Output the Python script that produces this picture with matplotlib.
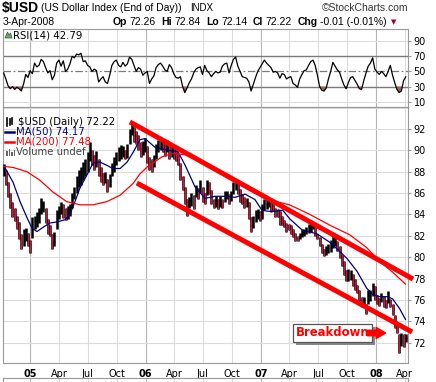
import numpy as np
import pandas as pd
import matplotlib
matplotlib.use("Agg")
import matplotlib.pyplot as plt
from matplotlib import patheffects
from matplotlib.lines import Line2D
from matplotlib.patches import Polygon, Rectangle

W, H = 436, 382

# weekly samples, Oct 2004 .. Apr 2008
weeks = pd.date_range("2004-10-08", periods=183, freq="7D")

usd_hi = [
    88.7, 88.2, 87.0, 86.0, 85.2, 84.6, 83.9, 83.3, 82.2, 82.6, 82.7, 82.3, 81.6,
    83.8, 83.9, 84.2, 84.6, 85.5, 85.3, 84.6, 83.6, 83.0, 82.2, 82.4, 84.4, 84.8,
    85.2, 85.0, 84.6, 84.8, 85.0, 86.0, 86.6, 87.6, 88.2, 88.4, 88.9, 89.2, 89.8,
    90.8, 90.0, 89.6, 89.9, 89.2, 88.4, 87.9, 88.0, 87.3, 87.8, 88.8, 89.4, 89.8,
    90.3, 90.5, 90.4, 90.0, 90.6, 92.0, 92.6, 92.2, 91.8, 91.4, 90.8, 90.9, 91.2,
    90.4, 89.4, 89.2, 89.6, 90.6, 91.0, 91.0, 90.9, 90.6, 91.0, 90.4, 90.4, 90.2,
    90.0, 89.7, 88.8, 87.6, 86.6, 85.4, 85.6, 86.0, 85.8, 86.8, 86.5, 87.2, 86.6,
    86.0, 87.2, 87.0, 86.3, 85.4, 85.7, 85.4, 85.7, 85.4, 86.2, 86.2, 85.9, 86.2,
    87.0, 87.3, 86.9, 86.4, 85.9, 85.6, 85.5, 85.2, 83.8, 83.9, 84.4, 84.5, 84.3,
    85.0, 85.4, 85.4, 85.4, 85.2, 85.0, 84.6, 84.5, 84.3, 83.9, 83.5, 83.2, 83.1,
    83.0, 82.6, 82.3, 82.0, 82.3, 82.6, 82.6, 82.8, 83.1, 83.2, 83.3, 82.8, 82.2,
    81.9, 81.2, 80.8, 81.0, 81.2, 81.6, 82.0, 82.1, 81.5, 81.0, 80.2, 79.6, 78.8,
    78.9, 78.8, 78.4, 78.0, 77.4, 76.9, 76.3, 76.3, 75.6, 76.9, 76.9, 77.6, 77.3,
    76.5, 76.2, 76.6, 76.4, 76.0, 76.8, 76.1, 75.6, 74.6, 73.8, 72.8, 72.9, 72.8, 72.8,
]
usd_lo = [
    87.6, 86.8, 85.6, 84.6, 83.8, 83.4, 82.6, 81.7, 80.8, 81.0, 81.5, 81.0, 80.4,
    81.8, 82.6, 82.8, 83.2, 84.0, 84.2, 83.2, 82.2, 82.0, 80.8, 81.0, 82.6, 83.6,
    84.0, 83.7, 83.5, 83.6, 83.9, 84.6, 85.4, 86.0, 86.6, 86.8, 87.2, 87.6, 88.0,
    89.0, 88.6, 88.2, 88.4, 87.6, 87.0, 86.8, 86.9, 86.1, 86.6, 87.6, 88.0, 88.6,
    89.0, 89.2, 89.4, 89.2, 89.3, 90.6, 91.4, 90.8, 90.6, 90.0, 89.4, 89.6, 89.8,
    88.8, 88.2, 88.0, 88.4, 89.2, 89.8, 90.0, 89.8, 89.5, 89.8, 89.2, 89.4, 89.2,
    89.0, 88.6, 87.2, 86.3, 85.0, 83.9, 84.6, 84.8, 84.5, 85.6, 85.4, 86.0, 85.2,
    85.0, 85.8, 85.9, 85.0, 84.6, 84.7, 84.5, 84.7, 84.6, 85.2, 85.4, 85.0, 85.3,
    85.9, 86.3, 85.9, 85.2, 85.0, 84.6, 84.7, 83.6, 82.4, 82.7, 83.3, 83.6, 83.4,
    83.6, 84.4, 84.5, 84.7, 84.2, 84.3, 83.8, 83.8, 83.0, 83.0, 82.8, 82.4, 82.5,
    82.2, 81.9, 81.5, 81.5, 81.7, 81.9, 82.0, 82.2, 82.3, 82.4, 82.6, 82.0, 81.7,
    81.0, 80.4, 80.1, 80.2, 80.4, 80.5, 80.9, 81.0, 80.6, 79.9, 79.2, 78.3, 77.8,
    77.8, 77.9, 77.3, 76.9, 76.6, 75.9, 75.3, 75.5, 74.7, 75.6, 75.9, 76.4, 76.0,
    75.6, 75.4, 75.8, 75.3, 75.2, 75.7, 75.3, 74.6, 73.4, 72.9, 71.0, 71.7, 71.6, 72.1,
]
rsi = [
    48, 40, 31, 27, 30, 26, 29, 27, 24, 33, 46, 42, 51,
    47, 61, 56, 58, 66, 63, 55, 48, 51, 39, 45, 61, 65,
    57, 64, 50, 53, 60, 70, 68, 73, 72, 74, 63, 64, 58,
    56, 50, 53, 51, 36, 40, 43, 36, 34, 45, 58, 63, 65,
    58, 56, 62, 57, 60, 69, 66, 58, 50, 55, 53, 45, 48,
    50, 34, 40, 44, 55, 59, 61, 57, 52, 50, 59, 55, 47,
    42, 41, 43, 30, 22, 28, 35, 40, 48, 53, 55, 56, 46,
    58, 51, 48, 43, 47, 50, 48, 49, 57, 60, 61, 48, 58,
    66, 69, 57, 50, 43, 42, 41, 36, 24, 33, 42, 50, 55,
    60, 65, 61, 58, 55, 49, 50, 48, 41, 47, 46, 40, 42,
    43, 34, 32, 29, 40, 46, 51, 52, 58, 63, 65, 58, 45,
    30, 25, 24, 28, 40, 50, 62, 57, 52, 49, 40, 32, 27,
    35, 42, 43, 38, 33, 27, 26, 38, 48, 57, 61, 68, 53,
    49, 46, 50, 47, 43, 50, 58, 45, 35, 26, 22, 24, 38, 42.79,
]

ma50_dates = [
    "2004-10-08", "2004-11-07", "2004-11-29", "2004-12-21", "2005-01-06", "2005-01-22",
    "2005-02-10", "2005-03-04", "2005-03-26", "2005-04-20", "2005-05-06", "2005-05-22",
    "2005-06-07", "2005-06-29", "2005-07-18", "2005-08-09", "2005-08-31", "2005-09-19",
    "2005-10-12", "2005-11-03", "2005-11-22", "2005-12-14", "2005-12-30", "2006-01-30",
    "2006-03-13", "2006-04-13", "2006-05-06", "2006-06-06", "2006-07-08", "2006-08-09",
    "2006-09-09", "2006-10-11", "2006-11-12", "2006-12-13", "2007-01-04", "2007-01-23",
    "2007-02-14", "2007-03-11", "2007-04-02", "2007-05-13", "2007-06-27", "2007-08-07",
    "2007-08-29", "2007-09-30", "2007-11-01", "2007-12-02", "2007-12-21", "2008-01-12",
    "2008-02-06", "2008-02-22", "2008-03-15", "2008-04-03",
]
ma50 = [
    88.6, 87.0, 85.2, 83.7, 82.7, 82.4, 82.8, 83.2, 83.3, 83.5, 84.0, 85.2,
    86.5, 87.7, 88.8, 88.9, 88.6, 88.3, 88.3, 88.9, 89.8, 91.0, 91.1, 90.3,
    90.0, 89.9, 88.6, 86.6, 85.5, 85.7, 85.7, 85.6, 85.9, 85.4, 84.4, 84.3,
    84.3, 84.4, 83.6, 82.5, 82.2, 81.4, 80.8, 79.9, 78.7, 77.1, 76.5, 76.3,
    76.3, 76.1, 75.2, 74.17,
]
ma200_dates = [
    "2004-10-08", "2004-11-07", "2004-12-21", "2005-01-31", "2005-03-13", "2005-04-26",
    "2005-06-07", "2005-07-18", "2005-08-31", "2005-10-12", "2005-11-22", "2005-12-14",
    "2006-01-08", "2006-02-22", "2006-03-25", "2006-05-06", "2006-06-06", "2006-07-08",
    "2006-09-25", "2006-12-13", "2007-02-20", "2007-04-02", "2007-06-05", "2007-08-07",
    "2007-10-09", "2007-12-02", "2008-01-12", "2008-02-22", "2008-04-03",
]
ma200 = [
    88.5, 88.4, 88.0, 87.2, 86.1, 85.2, 84.9, 84.9, 85.2, 85.8, 86.9, 87.8,
    88.5, 89.4, 89.7, 89.6, 89.3, 88.7, 87.3, 86.0, 85.2, 84.9, 84.0, 83.0,
    82.1, 80.9, 79.6, 78.6, 77.48,
]

# drawn trend channel
upper_dates = ["2005-11-12", "2008-04-27"]
upper_vals = [92.66, 77.95]
lower_dates = ["2005-12-04", "2008-04-24"]
lower_vals = [86.94, 72.99]

quarters = pd.date_range("2005-01-01", "2008-04-01", freq="QS")
quarter_labels = ["05", "Apr", "Jul", "Oct", "06", "Apr", "Jul", "Oct",
                  "07", "Apr", "Jul", "Oct", "08", "Apr"]

quote = [("Op", True), ("72.26", False), ("Hi", True), ("72.84", False),
         ("Lo", True), ("72.14", False), ("Cl", True), ("72.22", False),
         ("Chg", True), ("-0.01 (-0.01%)", False)]

RED = "#ff0000"
BAR_RED = "#d8103c"
GRID = "#dcdcdc"
GRID_YEAR = "#b4b4b4"
SPINE = "#999999"


def fx(px):
    return px / W


def fy(py):
    return 1 - py / H


fig = plt.figure(figsize=(W / 100, H / 100), dpi=100)
ax_rsi = fig.add_axes([fx(3), fy(107), fx(408) - fx(3), fy(29) - fy(107)])
ax = fig.add_axes([fx(3), fy(363), fx(408) - fx(3), fy(107) - fy(363)], sharex=ax_rsi)
ax_vol = fig.add_axes([fx(3), fy(400), fx(408) - fx(3), fy(378) - fy(400)])

xmin, xmax = pd.Timestamp("2004-10-06"), pd.Timestamp("2008-04-11")

for a in (ax_rsi, ax, ax_vol):
    for s in a.spines.values():
        s.set_color(SPINE)
        s.set_linewidth(0.8)
    for d in quarters:
        a.axvline(d, color=GRID_YEAR if d.month == 1 else GRID, lw=0.8, zorder=0)
ax_vol.set_xlim(xmin, xmax)
ax_vol.set_xticks([])
ax_vol.set_yticks([])

# ---- RSI panel
rsi_arr = np.array(rsi, dtype=float)
for v in (10, 90):
    ax_rsi.axhline(v, color=GRID, lw=0.8, zorder=0)
ax_rsi.axhline(70, color="#7a7a7a", lw=1.0, zorder=1)
ax_rsi.axhline(30, color="#7a7a7a", lw=1.0, zorder=1)
ax_rsi.axhline(50, color="#7a7a7a", lw=0.9, dashes=(6, 2, 1.5, 2), zorder=1)
ax_rsi.fill_between(weeks, rsi_arr, 30, where=rsi_arr < 30, interpolate=True,
                    color="#a06060", lw=0, zorder=2)
ax_rsi.plot(weeks, rsi_arr, color="black", lw=0.9, zorder=3)
ax_rsi.set_ylim(2.85, 106.2)
ax_rsi.set_yticks([10, 30, 50, 70, 90])
ax_rsi.yaxis.tick_right()
ax_rsi.tick_params(axis="y", labelsize=7, length=2, pad=2, color=SPINE)
ax_rsi.tick_params(axis="x", length=0, labelbottom=False)

# ---- price panel
for v in range(70, 96, 2):
    ax.axhline(v, color=GRID, lw=0.8, zorder=0)
hi = np.array(usd_hi)
lo = np.array(usd_lo)
mid = (hi + lo) / 2
down = np.r_[False, mid[1:] < mid[:-1]]
# black bars, with thinner red strokes over the down weeks
ax.vlines(weeks, lo, hi, colors="black", lw=1.8, zorder=3)
ax.vlines(weeks[down], lo[down], hi[down], colors=BAR_RED, lw=0.8, zorder=3)

ax.plot(pd.to_datetime(ma50_dates), ma50, color="#000080", lw=0.9, zorder=4)
ax.plot(pd.to_datetime(ma200_dates), ma200, color=RED, lw=0.9, zorder=4)

ax.plot(pd.to_datetime(upper_dates), upper_vals, color=RED, lw=3.6,
        solid_capstyle="butt", zorder=5, clip_on=False)
ax.plot(pd.to_datetime(lower_dates), lower_vals, color=RED, lw=3.6,
        solid_capstyle="butt", zorder=5, clip_on=False)

ax.set_ylim(70.09, 94.06)
ax.set_xlim(xmin, xmax)
ax.set_yticks(range(72, 93, 2))
ax.yaxis.tick_right()
ax.tick_params(axis="y", labelsize=7, length=2, pad=2, color=SPINE)
ax.set_xticks(quarters)
ax.set_xticklabels(quarter_labels)
ax.tick_params(axis="x", labelsize=7, length=0, pad=4)
for lab in ax.get_xticklabels():
    if lab.get_text().isdigit():
        lab.set_fontweight("bold")

# Breakdown callout
by = 72.9
t = ax.text(pd.Timestamp("2007-08-17"), by, "Breakdown", fontsize=8.4, fontweight="bold",
            color=RED, ha="center", va="center", zorder=7,
            bbox=dict(boxstyle="square,pad=0.22", fc="white", ec="#555555", lw=0.9))
t.get_bbox_patch().set_path_effects([
    patheffects.withSimplePatchShadow(offset=(2, -2), shadow_rgbFace="#888888", alpha=1.0)])
ax.annotate("", xy=(pd.Timestamp("2008-01-31"), by), xytext=(pd.Timestamp("2007-12-05"), by),
            arrowprops=dict(arrowstyle="simple,head_length=0.85,head_width=1.0,tail_width=0.5",
                            color=RED, mutation_scale=8, shrinkA=0, shrinkB=0), zorder=7)

# ---- header
hf = "Liberation Sans"
fig.text(fx(2), fy(8), "$USD", family=hf, fontsize=10, fontweight="bold", va="center")
fig.text(fx(41), fy(8), "(US Dollar Index (End of Day))", family=hf, fontsize=7.5, va="center")
fig.text(fx(190), fy(8), "INDX", family=hf, fontsize=7, va="center")
fig.text(fx(408), fy(8), "\u00a9StockCharts.com", family=hf, fontsize=7.5, va="center",
         ha="right", color="#333333")
fig.text(fx(3), fy(22), "3-Apr-2008", family=hf, fontsize=7.5, va="center")

renderer = fig.canvas.get_renderer()
px = 113.0
for s, b in quote:
    tt = fig.text(fx(px), fy(22), s, family=hf, fontsize=7.5, va="center",
                  fontweight="bold" if b else "normal")
    px += tt.get_window_extent(renderer).width + (2.5 if b else 5.5)
fig.text(fx(px - 1), fy(22), "\u25bc", fontsize=5, va="center", color="#990033")

# RSI label with icon
fig.add_artist(Polygon([[fx(5), fy(38)], [fx(7.5), fy(32)], [fx(9), fy(35)], [fx(10.5), fy(33)],
                        [fx(12), fy(38)]], closed=True, transform=fig.transFigure,
                       fc="#6aa86a", ec="#2d5a2d", lw=0.5))
fig.text(fx(13), fy(35), "RSI(14) 42.79", fontsize=7.3, va="center")

# price legend
fig.text(fx(18), fy(122), "$USD (Daily) 72.22", fontsize=7.3, va="center")
for i, xx in enumerate([7, 9.5, 12]):
    fig.add_artist(Line2D([fx(xx), fx(xx)], [fy(126 - i), fy(118 + i % 2)],
                          transform=fig.transFigure, color="black", lw=1.2))
fig.add_artist(Line2D([fx(5), fx(14)], [fy(132), fy(132)], transform=fig.transFigure,
                      color="#000080", lw=1.8))
fig.text(fx(16), fy(132), "MA(50) 74.17", fontsize=7.3, va="center", color="#000080")
fig.add_artist(Line2D([fx(5), fx(14)], [fy(142), fy(142)], transform=fig.transFigure,
                      color=RED, lw=1.8))
fig.text(fx(16), fy(142), "MA(200) 77.48", fontsize=7.3, va="center", color=RED)
for xx, h in [(6, 5), (8.5, 7), (11, 4), (13.5, 6)]:
    fig.add_artist(Rectangle((fx(xx), fy(156)), fx(1.6), fy(156 - h) - fy(156),
                             transform=fig.transFigure, color="#666666", lw=0))
fig.text(fx(16), fy(152), "Volume undef", fontsize=7.3, va="center", color="#444444")

fig.savefig("out.png", dpi=100)
